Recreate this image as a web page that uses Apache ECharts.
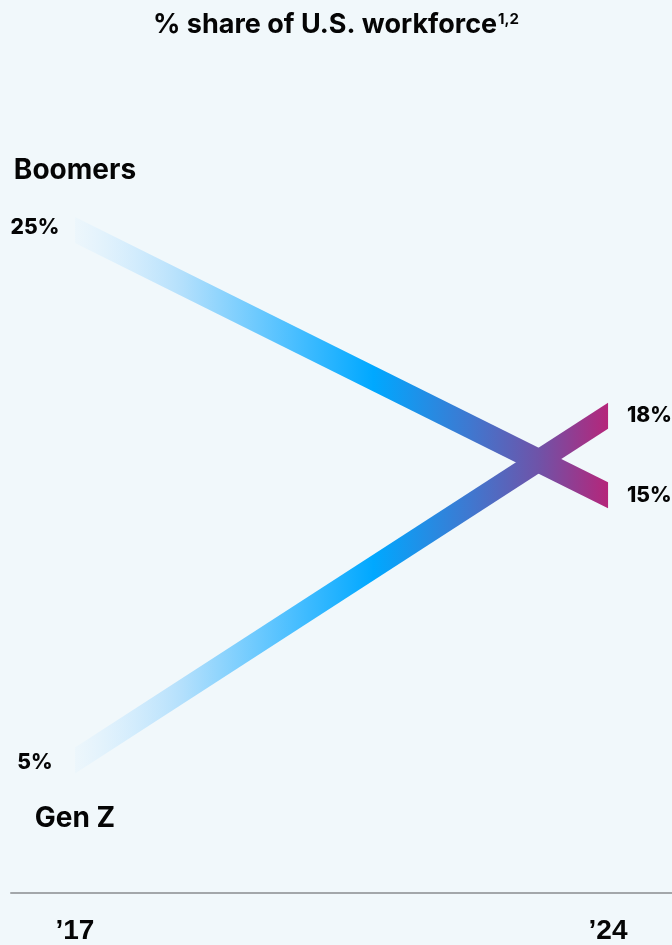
<!DOCTYPE html>
<html>
<head>
<meta charset="utf-8">
<script src="https://cdn.jsdelivr.net/npm/echarts@6/dist/echarts.min.js"></script>
<style>
  html, body { margin: 0; padding: 0; background: #f1f8fb; }
  #chart { width: 672px; height: 945px; }
</style>
</head>
<body>
<div id="chart"></div>
<script>
// Share of the U.S. workforce by generation, first and last year
const years = [2017, 2024];
const tickLabels = ['’17', '’24'];
const generations = ['Boomers', 'Gen Z'];
const boomers = [25, 15];
const genZ = [5, 18];

const FONT = 'Inter, "Noto Sans", sans-serif';
const TEXT = '#050505';

// name label goes above the band for the series that starts high, below otherwise
const nameOffset = { 'Boomers': -59, 'Gen Z': 58 };

const bandFill = new echarts.graphic.LinearGradient(0, 0, 1, 0, [
  { offset: 0.00, color: 'rgba(205,234,255,0.12)' },
  { offset: 0.20, color: '#b4e0fc' },
  { offset: 0.42, color: '#45bdff' },
  { offset: 0.56, color: '#00a8ff' },
  { offset: 0.74, color: '#3f78d0' },
  { offset: 0.87, color: '#6f53a8' },
  { offset: 1.00, color: '#b5267a' }
]);

function renderBand(params, api) {
  const p0 = api.coord([api.value(0), api.value(1)]);
  const p1 = api.coord([api.value(2), api.value(3)]);
  const h = 13; // half of the vertical band thickness
  const name = params.seriesName;
  const shift = nameOffset[name] < 0 ? -2 : 2;
  return {
    type: 'group',
    children: [
      {
        type: 'polygon',
        shape: { points: [[p0[0], p0[1] - h], [p1[0], p1[1] - h], [p1[0], p1[1] + h], [p0[0], p0[1] + h]] },
        style: { fill: bandFill }
      },
      {
        type: 'text',
        style: {
          text: api.value(1) + '%', x: p0[0] - 40, y: p0[1] + shift,
          fontFamily: FONT, fontWeight: 800, fontSize: 21, fill: TEXT,
          align: 'center', verticalAlign: 'middle'
        }
      },
      {
        type: 'text',
        style: {
          text: api.value(3) + '%', x: p1[0] + 19, y: p1[1],
          fontFamily: FONT, fontWeight: 800, fontSize: 21, fill: TEXT,
          align: 'left', verticalAlign: 'middle'
        }
      },
      {
        type: 'text',
        style: {
          text: name, x: p0[0], y: p0[1] + nameOffset[name],
          fontFamily: FONT, fontWeight: 700, fontSize: 28, fill: TEXT,
          align: 'center', verticalAlign: 'middle'
        }
      }
    ]
  };
}

function bandSeries(name, values) {
  return {
    type: 'custom',
    name: name,
    renderItem: renderBand,
    encode: { x: [0, 2], y: [1, 3] },
    data: [[years[0], values[0], years[1], values[1]]],
    silent: true
  };
}

const chart = echarts.init(document.getElementById('chart'), null, { renderer: 'canvas' });
chart.setOption({
  backgroundColor: '#f1f8fb',
  animation: false,
  title: {
    text: '% share of U.S. workforce{sup|1,2}',
    left: 'center',
    top: 6,
    textStyle: {
      fontFamily: FONT, fontWeight: 700, fontSize: 27, color: TEXT,
      rich: {
        sup: { fontFamily: FONT, fontWeight: 700, fontSize: 15, color: TEXT, padding: [0, 0, 11, 1] }
      }
    }
  },
  grid: { left: 11, right: 0, top: 230, bottom: 52 },
  xAxis: {
    type: 'value',
    min: 2016.16,
    max: 2024.84,
    axisLine: { show: true, lineStyle: { color: '#a3a7aa', width: 2 } },
    axisTick: { show: false },
    splitLine: { show: false },
    axisLabel: {
      customValues: years,
      formatter: v => tickLabels[years.indexOf(v)],
      margin: 24,
      fontFamily: '"Liberation Sans", Arial, sans-serif',
      fontWeight: 700,
      fontSize: 28,
      color: TEXT
    }
  },
  yAxis: { type: 'value', min: 0, max: 25, show: false },
  series: [bandSeries(generations[0], boomers), bandSeries(generations[1], genZ)]
});
</script>
</body>
</html>
